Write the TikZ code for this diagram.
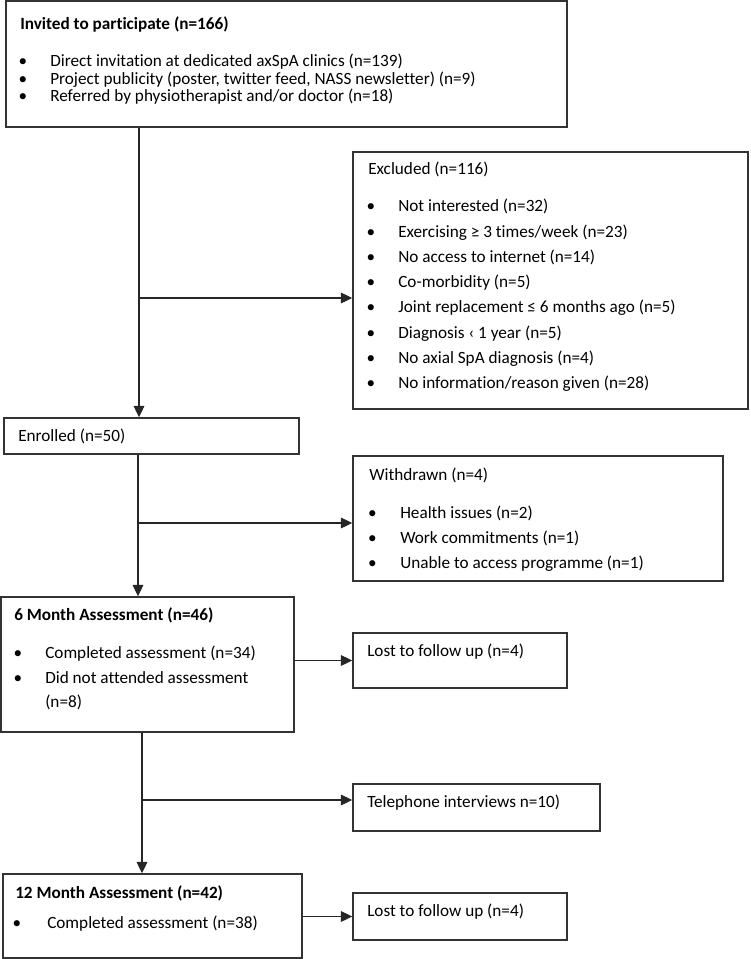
\documentclass[tikz,border=0pt]{standalone}
\usepackage{fontspec}
\setmainfont{Carlito}[Ligatures=NoCommon]
\usetikzlibrary{arrows.meta, fit}

\newcommand{\flowfont}{\fontsize{12.9}{15}\selectfont}
\tikzset{
  stagebox/.style={draw=black!80, line width=1.1pt, inner sep=0pt},
  txt/.style={anchor=west, inner sep=0pt, font=\flowfont, text height=0.95em, text depth=0.2em},
  boldtxt/.style={txt, font=\flowfont\bfseries},
  bulletdot/.style={txt, anchor=center},
  flow/.style={draw=black!85, line width=0.8pt},
  flowarrow/.style={flow, -{Triangle[length=8.5pt, width=8pt]}},
}

\begin{document}
\begin{tikzpicture}[x=0.75pt,y=0.75pt,yscale=-1,xscale=1]
\useasboundingbox (0,0) rectangle (750,959);

%Shape: Rectangle
\node[stagebox, fit={(6,1) (567,127)}] (invited) {};
%Shape: Rectangle
\node[stagebox, fit={(353,152) (748,409)}] (excluded) {};
%Shape: Rectangle
\node[stagebox, fit={(4,418) (299,454)}] (enrolled) {};
%Shape: Rectangle
\node[stagebox, fit={(353,456) (723,581)}] (withdrawn) {};
%Shape: Rectangle
\node[stagebox, fit={(1,597) (294,732)}] (sixmonth) {};
%Shape: Rectangle
\node[stagebox, fit={(353,633) (567,688)}] (lostsix) {};
%Shape: Rectangle
\node[stagebox, fit={(353,784) (600,831)}] (phone) {};
%Shape: Rectangle
\node[stagebox, fit={(3,874) (302,958)}] (twelvemonth) {};
%Shape: Rectangle
\node[stagebox, fit={(353,893) (567,940)}] (losttwelve) {};

%Straight Lines
\coordinate (split1) at (139,298);
\draw[flow] (invited.south -| split1) -- (split1);
\draw[flowarrow] (split1) -- (enrolled.north -| split1);
\draw[flowarrow] (split1) -- (excluded.west |- split1);
%Straight Lines
\coordinate (split2) at (138,523);
\draw[flow] (enrolled.south -| split2) -- (split2);
\draw[flowarrow] (split2) -- (sixmonth.north -| split2);
\draw[flowarrow] (split2) -- (withdrawn.west |- split2);
%Straight Lines
\draw[flowarrow] (sixmonth.east |- lostsix.west) -- (lostsix.west);
\coordinate (split3) at (142,800);
\draw[flow] (sixmonth.south -| split3) -- (split3);
\draw[flowarrow] (split3) -- (twelvemonth.north -| split3);
\draw[flowarrow] (split3) -- (phone.west |- split3);
%Straight Lines
\draw[flowarrow] (twelvemonth.east |- losttwelve.west) -- (losttwelve.west);

% Text Node
\node[boldtxt] (invitedtitle) at (20,25) {Invited to participate (n=166)};
\foreach \y/\t in {62/{Direct invitation at dedicated axSpA clinics (n=139)},
                   80/{Project publicity (poster, twitter feed, NASS newsletter) (n=9)},
                   97/{Referred by physiotherapist and/or doctor (n=18)}}{
  \node[bulletdot] (invdot\y) at (23,\y) {•};
  \node[txt] (invitem\y) at (50,\y) {\t};
}

% Text Node
\node[txt] (excludedtitle) at (368,170) {Excluded (n=116)};
\foreach \t [count=\i from 0] in {Not interested (n=32), Exercising ≥ 3 times/week (n=23),
    No access to internet (n=14), Co-morbidity (n=5), Joint replacement ≤ 6 months ago (n=5),
    Diagnosis ‹ 1 year (n=5), No axial SpA diagnosis (n=4), No information/reason given (n=28)}{
  \node[bulletdot] (exdot\i) at (371,207+25.2*\i) {•};
  \node[txt] (exitem\i) at (398,207+25.2*\i) {\t};
}

% Text Node
\node[txt] (enrolledtext) at (18,436) {Enrolled (n=50)};

% Text Node
\node[txt] (withdrawntitle) at (369,475) {Withdrawn (n=4)};
\foreach \t [count=\i from 0] in {Health issues (n=2), Work commitments (n=1), Unable to access programme (n=1)}{
  \node[bulletdot] (wddot\i) at (372.5,513+25*\i) {•};
  \node[txt] (wditem\i) at (400,513+25*\i) {\t};
}

% Text Node
\node[boldtxt] (sixtitle) at (14,615) {6 Month Assessment (n=46)};
\node[bulletdot] (sixdot1) at (18,653) {•};
\node[txt] (sixitem1) at (45,653) {Completed assessment (n=34)};
\node[bulletdot] (sixdot2) at (18,678) {•};
\node[txt] (sixitem2) at (45,678) {Did not attended assessment};
\node[txt] (sixitem3) at (45,702) {(n=8)};

% Text Node
\node[txt] (lostsixtext) at (367,651) {Lost to follow up (n=4)};
% Text Node
\node[txt] (phonetext) at (367,802) {Telephone interviews n=10)};

% Text Node
\node[boldtxt] (twelvetitle) at (15,893) {12 Month Assessment (n=42)};
\node[bulletdot] (twelvedot) at (17,923) {•};
\node[txt] (twelveitem) at (47,923) {Completed assessment (n=38)};

% Text Node
\node[txt] (losttwelvetext) at (367,911) {Lost to follow up (n=4)};

\end{tikzpicture}
\end{document}
